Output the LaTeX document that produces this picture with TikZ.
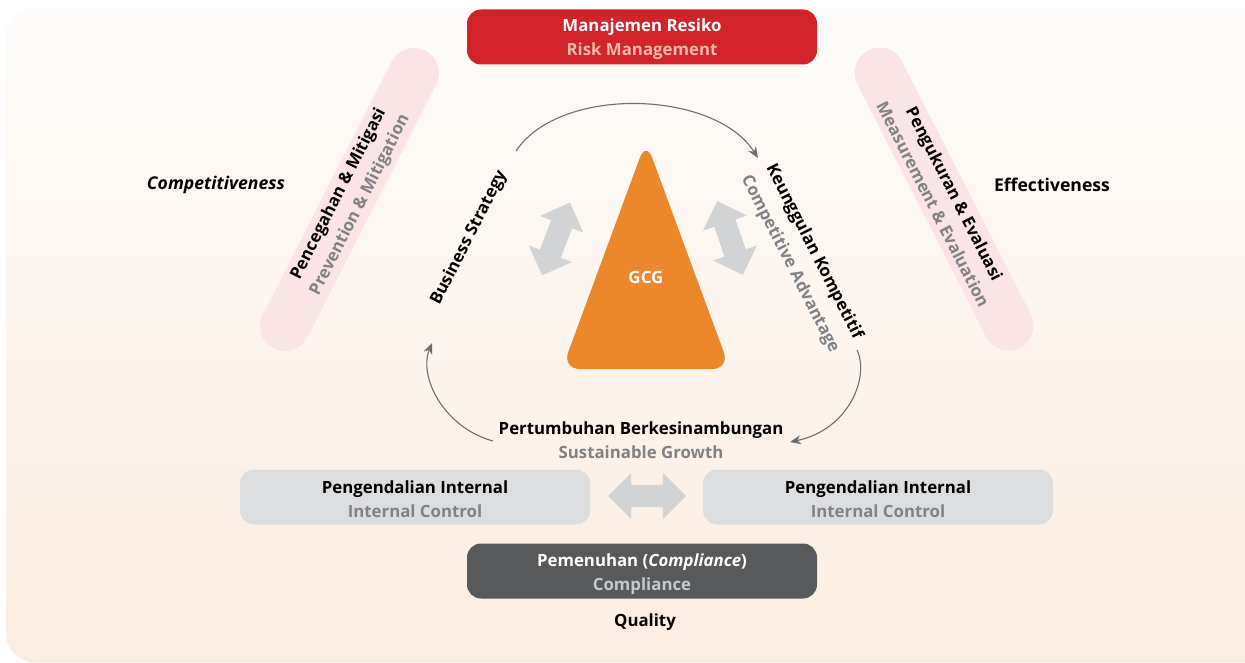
\documentclass[tikz,border=0pt]{standalone}
\usepackage{fontspec}
\setmainfont{Open Sans}
\usetikzlibrary{shapes,arrows.meta}
\definecolor{bgtop}{HTML}{FDFCFA}
\definecolor{bgbot}{HTML}{FCEDE1}
\definecolor{riskred}{HTML}{D2232A}
\definecolor{riskpink}{HTML}{F5B9A9}
\definecolor{pillpink}{HTML}{FBE4E6}
\definecolor{gcgorange}{HTML}{EC872B}
\definecolor{dblgray}{HTML}{D1D3D4}
\definecolor{boxgray}{HTML}{DCDDDE}
\definecolor{compgray}{HTML}{58595B}
\definecolor{subgray}{HTML}{808285}
\definecolor{sublight}{HTML}{C7C8CA}
\definecolor{linegray}{HTML}{6D6E71}

\begin{document}
\begin{tikzpicture}[x=1pt,y=-1pt]
      \tikzstyle{txt}=[font=\fontsize{16.8}{24}\selectfont\bfseries, align=center, inner sep=0pt]
      \tikzstyle{box}=[txt, rectangle, rounded corners=14pt, minimum width=350pt, minimum height=55pt]
      \tikzstyle{pill}=[txt, rectangle, rounded corners=25pt, fill=pillpink, minimum width=334pt, minimum height=50pt]
      \tikzstyle{dbl}=[double arrow, fill=dblgray, minimum height=78pt, double arrow head extend=12pt, inner sep=0pt]
      \tikzstyle{flow}=[draw=linegray, line width=1.1pt, -{Stealth[length=11pt,width=9pt]}]
      \useasboundingbox (0,0) rectangle (1245,663);
      \shade[top color=bgtop, bottom color=bgbot, rounded corners=28pt] (6,7) rectangle (1280,662);

      \node[box, fill=riskred, text=white] (risk) at (642,37) {};
      \node[txt, text=white] (risktxt) at (642,39) {Manajemen Resiko\\{\color{riskpink}Risk Management}};
      \node[pill, rotate=63] (prevent) at (349.5,199.5) {Pencegahan \& Mitigasi\\{\color{subgray}Prevention \& Mitigation}};
      \node[pill, rotate=-63] (measure) at (944,199) {Pengukuran \& Evaluasi\\{\color{subgray}Measurement \& Evaluation}};
      \node[txt, font=\fontsize{17.6}{24}\selectfont\bfseries] (compet) at (216,185) {\itshape Competitiveness};
      \node[txt, font=\fontsize{17.6}{24}\selectfont\bfseries] (effect) at (1052,185) {Effectiveness};

      \fill[gcgorange, rounded corners=18pt] (646,141) -- (730,369) -- (562,369) -- cycle;
      \node[txt, text=white, font=\fontsize{17}{20}\selectfont\bfseries] (gcg) at (646,277) {GCG};
      \node[dbl, rotate=69] (dblleft) at (556,239) {\rule{0pt}{22pt}};
      \node[dbl, rotate=109] (dblright) at (730,238) {\rule{0pt}{22pt}};

      \node[txt, rotate=63] (strategy) at (469,238) {Business Strategy};
      \node[txt, rotate=-63, font=\fontsize{16.8}{27}\selectfont\bfseries] (advantage) at (802,258) {Keunggulan Kompetitif\\{\color{subgray}Competitive Advantage}};
      \node[txt] (growth) at (641,440) {Pertumbuhan Berkesinambungan\\{\color{subgray}Sustainable Growth}};

      \coordinate (strategy top) at (516,151);
      \coordinate (advantage top) at (758,158);
      \coordinate (advantage bot) at (857,350);
      \coordinate (growth right) at (790,442);
      \coordinate (growth left) at (493,441);
      \coordinate (strategy bot) at (432,343);
      \draw[flow] (strategy top) .. controls (560,85) and (715,90) .. (advantage top);
      \draw[flow] (advantage bot) .. controls (870,378) and (848,430) .. (growth right);
      \draw[flow] (growth left) .. controls (445,428) and (418,378) .. (strategy bot);

      \node[box, fill=boxgray] (ctrlleft) at (415,497) {};
      \node[txt] (ctrllefttxt) at (415,499) {Pengendalian Internal\\{\color{subgray}Internal Control}};
      \node[box, fill=boxgray] (ctrlright) at (878,497) {};
      \node[txt] (ctrlrighttxt) at (878,499) {Pengendalian Internal\\{\color{subgray}Internal Control}};
      \node[dbl] (dblmid) at (647,496) {\rule{0pt}{22pt}};
      \node[box, fill=compgray] (comply) at (642,571) {};
      \node[txt, text=white] (complytxt) at (642,574) {Pemenuhan (\textit{Compliance})\\{\color{sublight}Compliance}};
      \node[txt] (quality) at (645,622) {Quality};
\end{tikzpicture}
\end{document}
